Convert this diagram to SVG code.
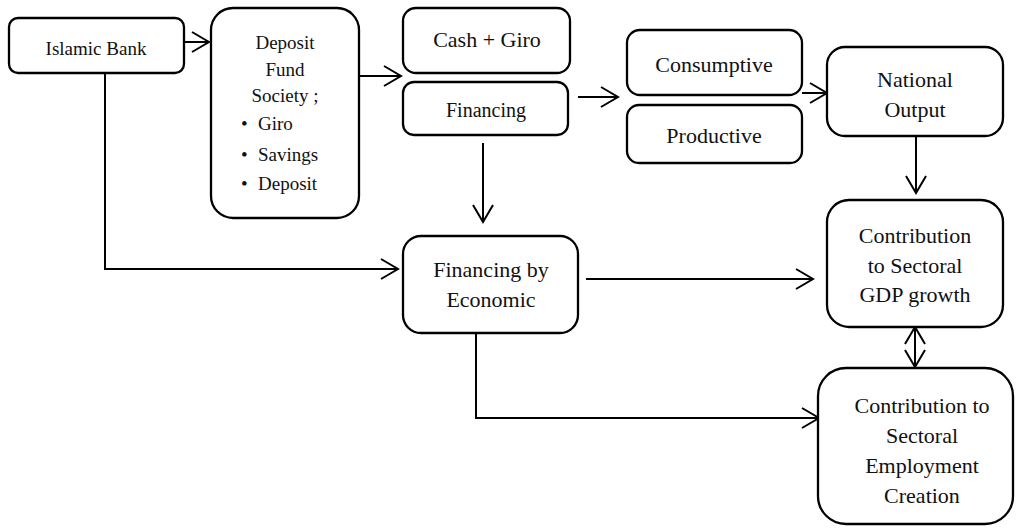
<svg xmlns="http://www.w3.org/2000/svg" width="1017" height="528" viewBox="0 0 1017 528">
<style>
.box{fill:#fff;stroke:#000;stroke-width:2.3}
.t{font-family:'Liberation Serif','Times New Roman',Times,serif;font-size:22px;fill:#111;text-anchor:middle}
.s{font-size:19px}
.l{text-anchor:start}
.c{fill:none;stroke:#000;stroke-width:2}
.a{marker-end:url(#arr)}
</style>
<defs>
<marker id="arr" markerUnits="userSpaceOnUse" markerWidth="22" markerHeight="24" refX="18" refY="11" orient="auto-start-reverse">
<path d="M1,1 L18,11 L1,21" fill="none" stroke="#000" stroke-width="2"/>
</marker>
</defs>
<g id="connectors">
<path class="c a" d="M184,42 H209"/>
<path class="c a" d="M359,76 H401"/>
<path class="c a" d="M578,97 H618"/>
<path class="c a" d="M802,93 H827"/>
<path class="c a" d="M916,136 V193"/>
<path class="c a" d="M483,143 V222"/>
<path class="c a" d="M105,73 V269 H398"/>
<path class="c a" d="M586,279 H813"/>
<path class="c a" d="M476,333 V418 H819"/>
<path class="c" d="M915,327 V367" marker-start="url(#arr)" marker-end="url(#arr)"/>
</g>
<g id="islamic-bank">
<rect class="box" x="9" y="18" width="175" height="55" rx="9"/>
<text class="t" x="96" y="55" style="font-size:19px">Islamic Bank</text>
</g>
<g id="deposit-fund">
<rect class="box" x="211" y="8" width="148" height="210" rx="22"/>
<text class="t s" x="285" y="49">Deposit</text>
<text class="t s" x="285" y="76">Fund</text>
<text class="t s" x="285" y="102">Society ;</text>
<text class="t s l"><tspan x="241" y="130">•</tspan><tspan x="258" y="130">Giro</tspan></text>
<text class="t s l"><tspan x="241" y="161">•</tspan><tspan x="258" y="161">Savings</tspan></text>
<text class="t s l"><tspan x="241" y="190">•</tspan><tspan x="258" y="190">Deposit</tspan></text>
</g>
<g id="cash-giro">
<rect class="box" x="403" y="8" width="167" height="65" rx="13"/>
<text class="t" x="487" y="47">Cash + Giro</text>
</g>
<g id="financing">
<rect class="box" x="403" y="82" width="165" height="53" rx="11"/>
<text class="t" x="486" y="117" style="font-size:20px">Financing</text>
</g>
<g id="consumptive">
<rect class="box" x="627" y="30" width="175" height="65" rx="13"/>
<text class="t" x="714" y="72">Consumptive</text>
</g>
<g id="productive">
<rect class="box" x="627" y="105" width="175" height="58" rx="12"/>
<text class="t" x="714" y="143">Productive</text>
</g>
<g id="national-output">
<rect class="box" x="827" y="47" width="176" height="89" rx="18"/>
<text class="t" x="915" y="87">National</text>
<text class="t" x="915" y="117">Output</text>
</g>
<g id="financing-economic">
<rect class="box" x="403" y="236" width="175" height="97" rx="18"/>
<text class="t" x="491" y="277">Financing by</text>
<text class="t" x="491" y="307">Economic</text>
</g>
<g id="gdp-growth">
<rect class="box" x="827" y="200" width="176" height="127" rx="22"/>
<text class="t" x="915" y="243">Contribution</text>
<text class="t" x="915" y="273">to Sectoral</text>
<text class="t" x="915" y="302">GDP growth</text>
</g>
<g id="employment">
<rect class="box" x="818" y="368" width="195" height="156" rx="28"/>
<text class="t" x="922" y="413">Contribution to</text>
<text class="t" x="922" y="443">Sectoral</text>
<text class="t" x="922" y="473">Employment</text>
<text class="t" x="922" y="503">Creation</text>
</g>
</svg>
